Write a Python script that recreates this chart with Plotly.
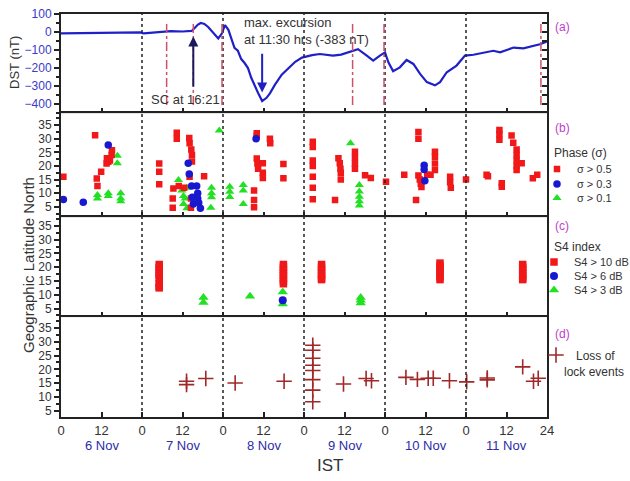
import plotly.graph_objects as go

# ---------------- data ----------------
dst_hours = [0, 6, 12, 18, 23.5, 24.5, 28, 31.3, 32.5, 36, 38.7, 39.6, 40.5, 41.4, 42.5, 43.6,
             45.1, 46.6, 47.6, 48.6, 49.6, 50.6, 51.4, 52.4, 53.4, 54.4, 55.4, 56.4, 57.4, 58.4,
             59.6, 60.9, 61.9, 63.4, 65.4, 67.4, 69.4, 71.4, 74.4, 76.7, 80.6, 83, 85.6, 88, 90.6,
             92.5, 94.5, 96, 97, 98.4, 100.4, 102.4, 104.4, 106.4, 108.4, 110.8, 112.3, 114.3,
             117.2, 119.7, 122.2, 126.1, 128.1, 130.1, 134.1, 137.0, 140, 141.9, 143.9]
dst_values = [-7, -6, -5, -4, -2, -8, -3, 0, 5, 3, 6, 22, 40, 50, 45, 28,
              -5, -36, -10, 38, 12, -44, -88, -104, -150, -172, -200, -255, -292, -338,
              -383, -365, -340, -292, -237, -200, -165, -142, -128, -122, -131, -125, -108, -95, -131,
              -159, -131, -113, -168, -217, -196, -155, -177, -232, -278, -296, -278, -223,
              -186, -131, -126, -113, -104, -113, -86, -91, -77, -68, -53]

event_hours = [31.3, 39.2, 47.7, 86.4, 95.7, 142.2]
day_bounds = [24, 48, 72, 96, 120]
day_labels = ["6 Nov", "7 Nov", "8 Nov", "9 Nov", "10 Nov", "11 Nov"]
day_centres = [12, 36, 60, 84, 108, 132]
x_tickvals = [0, 12, 24, 36, 48, 60, 72, 84, 96, 108, 120, 132, 144]
x_ticktext = ["0", "12", "0", "12", "0", "12", "0", "12", "0", "12", "0", "12", "24"]

# Phase sigma > 0.5
ph5_x = [0.7, 10.1, 10.6, 10.8, 11.9, 13.5, 13.6, 14.5, 15, 15.1, 14,
         29.1, 29.1, 29.1, 34.3, 34.3, 33.3, 33.1, 33.1, 34.9, 38, 38.1, 38.6, 38.8, 38.8, 38.1, 42.4, 38.5, 38.5, 36.5,
         57.2, 57.2, 57.2, 58, 58, 58, 58.2, 58.4, 59.8, 59.8, 59.8, 61.9, 62, 65.9, 65.9,
         74.6, 74.6, 74.6, 74.6, 74.6, 74.6, 74.6, 81.2, 82.2, 82.6, 82.8, 82.9, 82.9, 87.1, 87.1, 87.1, 87.1, 90.1, 91.8,
         96.3, 101.7, 105.2, 105.9, 105.9, 105.9, 106.3, 106.6, 106.8, 108.5, 109.5, 110.8, 110.8, 110.8, 110.8,
         115.3, 115.3, 115.5, 120,
         126.1, 126.5, 129.9, 129.9, 129.9, 130.6, 130.6, 133.5, 134, 135, 135, 135, 135, 135, 136.5, 139.8, 141.1]
ph5_y = [16, 31.3, 15.4, 12.6, 17.9, 20.9, 22.8, 22, 24, 25.8, 21.5,
         20.9, 17.9, 13.3, 32.2, 30, 11.7, 8, 4.6, 12.6, 30.3, 28.3, 26, 24, 21.6, 16, 16.2, 8, 4.6, 12,
         11, 7.5, 4.8, 32, 31, 22.7, 20.9, 19, 21, 17.5, 15.6, 30, 28.3, 20.7, 15.5,
         28.9, 27, 22, 20, 16, 12, 7.8, 7.5, 22.8, 21, 19, 17.5, 15, 25.2, 23, 20.8, 19, 16.6, 15.6,
         14.2, 16.8, 7.5, 32.5, 30, 16.5, 15, 13.5, 12.3, 16.8, 16.8, 25.2, 23.4, 20.9, 18.5,
         16, 14, 12, 15,
         16.8, 16.2, 33.2, 31.6, 29.6, 13.6, 12.4, 31.2, 28.5, 26, 24, 22, 20, 18.5, 21, 15.5, 16.8]
# Phase sigma > 0.3
ph3_x = [0.7, 6.6, 14, 37.7, 38, 38.7, 40.2, 40.5, 38.9, 40.5, 39.2, 41.3, 40.8, 57.8, 107.6, 107.6, 107.8]
ph3_y = [7.7, 6.7, 27.7, 21, 17, 12.6, 12.6, 10, 8.5, 8, 6, 4.5, 6.5, 30, 20.3, 18.7, 14.6]
# Phase sigma > 0.1
ph1_x = [10.8, 10.8, 14, 14, 16.7, 16.7, 17.7, 17.7, 17.7,
         34.8, 35.8, 36.3, 36.8, 36.3, 37.3, 37.3, 44.6, 44.6, 44.6, 44.4, 46.9,
         50, 50, 50, 54, 54, 54,
         85.8, 88.4, 88.4, 88.4, 88.4, 88.4]
ph1_y = [9.3, 8, 10, 9, 23.7, 21, 10, 8, 7,
         14.8, 11, 9, 8, 6, 4.5, 12, 12, 10, 8.5, 4.6, 33,
         12.4, 10.5, 8.6, 13, 11, 6,
         28.3, 13, 10.6, 8.7, 7, 5.5]

# S4 index
s4_10_x = [29.1] * 9 + [65.9] * 8 + [77.2] * 7 + [112.3] * 7 + [136.8] * 7
s4_10_y = [21, 20, 19, 18, 17, 16, 14, 13, 12.5,
           21, 20, 19, 18, 17, 16, 15, 14,
           21, 20, 19, 18, 17, 16, 15.5,
           21.5, 20.5, 19.5, 18.5, 17.5, 16.5, 15.5,
           21, 20, 19, 18, 17, 16, 15.5]
s4_6_x = [65.7]
s4_6_y = [8]
s4_3_x = [42.2, 42.2, 56, 65.7, 65.7, 88.8, 88.8, 88.8]
s4_3_y = [9, 7.2, 9.5, 11, 6.6, 9, 8, 7]

# Loss of lock events
lol_x = [37.2, 37.2, 42.9, 51.6, 66.1, 74.6, 74.6, 74.6, 74.6, 74.6, 74.6, 74.6, 74.6,
         83.7, 90.4, 92, 102.2, 105.6, 108.8, 110.3, 115.1, 120.2, 126.3, 126.3, 136.8, 140, 141.4]
lol_y = [15.7, 14.5, 16.7, 15.1, 15.7, 28.7, 26.9, 24, 21.5, 19.6, 16.3, 12.5, 8.3,
         14.7, 16.7, 15.9, 17.1, 16.4, 16.8, 16.8, 15.9, 15.5, 16.9, 16.2, 20.9, 15.7, 16.8]

# ---------------- styling ----------------
FONT = "Arial, Liberation Sans, sans-serif"
RED = "#f01818"
BLUE = "#1818d0"
GREEN = "#22e022"
CROSS = "#a02828"
AXC = "#222222"
TXT = "#333333"

fig = go.Figure()

# DST line
fig.add_trace(go.Scatter(x=dst_hours, y=dst_values, mode="lines", xaxis="x", yaxis="y",
                         line=dict(color="#2020c8", width=2.2), showlegend=False))

# Phase panel
fig.add_trace(go.Scatter(x=ph1_x, y=ph1_y, mode="markers", xaxis="x2", yaxis="y2",
                         marker=dict(symbol="triangle-up", size=8, color=GREEN),
                         name="σ > 0.1", legend="legend3"))
fig.add_trace(go.Scatter(x=ph5_x, y=ph5_y, mode="markers", xaxis="x2", yaxis="y2",
                         marker=dict(symbol="square", size=6.5, color=RED),
                         name="σ > 0.5", legend="legend"))
fig.add_trace(go.Scatter(x=ph3_x, y=ph3_y, mode="markers", xaxis="x2", yaxis="y2",
                         marker=dict(symbol="circle", size=7.5, color=BLUE),
                         name="σ > 0.3", legend="legend2"))

# S4 panel
fig.add_trace(go.Scatter(x=s4_10_x, y=s4_10_y, mode="markers", xaxis="x3", yaxis="y3",
                         marker=dict(symbol="square", size=7.5, color=RED),
                         name="S4 > 10 dB", legend="legend4"))
fig.add_trace(go.Scatter(x=s4_3_x, y=s4_3_y, mode="markers", xaxis="x3", yaxis="y3",
                         marker=dict(symbol="triangle-up", size=9, color=GREEN),
                         name="S4 > 3 dB", legend="legend6"))
fig.add_trace(go.Scatter(x=s4_6_x, y=s4_6_y, mode="markers", xaxis="x3", yaxis="y3",
                         marker=dict(symbol="circle", size=8, color=BLUE),
                         name="S4 > 6 dB", legend="legend5"))

# Loss of lock panel
fig.add_trace(go.Scatter(x=lol_x, y=lol_y, mode="markers", xaxis="x4", yaxis="y4",
                         marker=dict(symbol="cross-thin", size=11, color=CROSS,
                                     line=dict(color=CROSS, width=1.6)),
                         name="Loss of", legend="legend7"))

# empty traces for right-hand inside tick axes
for k in range(5, 9):
    fig.add_trace(go.Scatter(x=[], y=[], xaxis="x", yaxis=f"y{k}", showlegend=False,
                             hoverinfo="skip"))

domains = [[0.754, 1.0], [0.496, 0.754], [0.248, 0.496], [0.0, 0.248]]
lat_ranges = [[1.2, 39.4], [1.9, 38.2], [2.8, 38.9]]

layout = dict(
    width=630, height=481,
    margin=dict(l=61, r=83, t=14, b=64, autoexpand=False),
    paper_bgcolor="white", plot_bgcolor="white",
    font=dict(family=FONT, size=12, color=TXT),
)

for i in range(4):
    xname = "xaxis" if i == 0 else f"xaxis{i+1}"
    yid = "y" if i == 0 else f"y{i+1}"
    layout[xname] = dict(
        domain=[0, 1], anchor=yid, range=[0, 144],
        tickmode="array", tickvals=x_tickvals, ticktext=x_ticktext,
        showticklabels=(i == 3), ticks="inside", ticklen=5, tickwidth=1.5, tickcolor=AXC,
        showline=True, linecolor=AXC, linewidth=2, mirror=True,
        showgrid=False, zeroline=False,
        tickfont=dict(size=13, color=TXT),
    )
    if i > 0:
        layout[xname]["matches"] = "x"

layout["yaxis"] = dict(
    domain=domains[0], anchor="x", range=[-450, 100],
    tickmode="array", tickvals=[100, 0, -100, -200, -300, -400],
    ticks="outside", ticklen=5, tickwidth=1.5, tickcolor=AXC,
    minor=dict(dtick=50, ticks="outside", ticklen=3, tickcolor=AXC),
    showline=True, linecolor=AXC, linewidth=2, mirror=True,
    showgrid=False, zeroline=False,
    tickfont=dict(size=12, color="#3a3ac8"),
)
for i in range(1, 4):
    layout[f"yaxis{i+1}"] = dict(
        domain=domains[i], anchor=f"x{i+1}", range=lat_ranges[i - 1],
        tickmode="array", tickvals=[5, 10, 15, 20, 25, 30, 35],
        ticks="outside", ticklen=5, tickwidth=1.5, tickcolor=AXC,
        minor=dict(tickvals=[2.5, 7.5, 12.5, 17.5, 22.5, 27.5, 32.5, 37.5],
                   ticks="outside", ticklen=3, tickcolor=AXC),
        showline=True, linecolor=AXC, linewidth=2, mirror=True,
        showgrid=False, zeroline=False,
        tickfont=dict(size=12, color=TXT),
    )

# right side inside ticks
right_ranges = [[-450, 100]] + lat_ranges
right_ticks = [list(range(-450, 101, 50)), [2.5 * k for k in range(1, 16)],
               [2.5 * k for k in range(1, 16)], [2.5 * k for k in range(1, 16)]]
for i in range(4):
    ov = "y" if i == 0 else f"y{i+1}"
    layout[f"yaxis{i+5}"] = dict(
        overlaying=ov, side="right", anchor="x", range=right_ranges[i],
        tickmode="array", tickvals=right_ticks[i], showticklabels=False,
        ticks="inside", ticklen=5, tickwidth=1.5, tickcolor=AXC,
        showline=False, showgrid=False, zeroline=False,
    )

# one legend per entry, so the rows can sit as tightly as in the original
legend_rows = {"legend": (537, 169), "legend2": (537, 184), "legend3": (537, 198),
               "legend4": (534, 262), "legend5": (534, 276), "legend6": (534, 290),
               "legend7": (536, 355)}
for lname, (px, py) in legend_rows.items():
    layout[lname] = dict(x=(px - 61) / 486, y=(417 - py) / 403, xanchor="left", yanchor="middle",
                         bgcolor="rgba(0,0,0,0)",
                         font=dict(size=12 if lname == "legend7" else 11, color=TXT),
                         itemsizing="trace", itemwidth=30)

shapes = []
for b in day_bounds:
    shapes.append(dict(type="line", xref="x", yref="paper", x0=b, x1=b, y0=0, y1=1,
                       line=dict(color="#222222", width=1.5, dash="dot")))
for h in event_hours:
    shapes.append(dict(type="line", xref="x", yref="y", x0=h, x1=h, y0=-405, y1=50,
                       line=dict(color="#d0506a", width=1.5, dash="dashdot")))
layout["shapes"] = shapes

ann = []
# arrows
ann.append(dict(x=39.2, y=-25, ax=39.2, ay=-310, xref="x", yref="y", axref="x", ayref="y",
                showarrow=True, arrowhead=2, arrowsize=1, arrowwidth=2, arrowcolor="#1a1a5a", text=""))
ann.append(dict(x=59.6, y=-335, ax=59.6, ay=-112, xref="x", yref="y", axref="x", ayref="y",
                showarrow=True, arrowhead=2, arrowsize=1, arrowwidth=2, arrowcolor="#2020c0", text=""))
ann.append(dict(x=26.2, y=-375, xref="x", yref="y", text="SC at 16:21", showarrow=False,
                xanchor="left", yanchor="middle", font=dict(size=13, color=TXT)))
ann.append(dict(x=53.5, y=55, xref="x", yref="y", text="max. excursion", showarrow=False,
                xanchor="left", yanchor="middle", font=dict(size=13, color=TXT)))
ann.append(dict(x=53.5, y=-40, xref="x", yref="y", text="at 11:30 hrs (-383 nT)", showarrow=False,
                xanchor="left", yanchor="middle", font=dict(size=13, color=TXT)))
# legend titles and second line of the loss-of-lock label
for txt, px, py, anc in [("Phase (σ)", 552, 153, "left"), ("S4 index", 552, 247, "left"),
                         ("lock events", 594, 372, "center")]:
    ann.append(dict(x=(px - 61) / 486, y=(417 - py) / 403, xref="paper", yref="paper", text=txt,
                    showarrow=False, xanchor=anc, yanchor="middle",
                    font=dict(size=12, color=TXT)))
# panel labels
for lab, py in zip(["(a)", "(b)", "(c)", "(d)"], [27, 128, 226, 334]):
    ann.append(dict(x=1.012, y=(417 - py) / 403, xref="paper", yref="paper", text=lab,
                    showarrow=False, xanchor="left", yanchor="middle",
                    font=dict(size=12, color="#c040c8")))
# day labels
for c, lab in zip(day_centres, day_labels):
    ann.append(dict(x=c, y=(417 - 445) / 403, xref="x4", yref="paper", text=lab,
                    showarrow=False, xanchor="center", yanchor="middle",
                    font=dict(size=13, color="#2c2ca8")))
ann.append(dict(x=(330 - 61) / 486, y=(417 - 466) / 403, xref="paper", yref="paper", text="IST",
                showarrow=False, xanchor="center", yanchor="middle", font=dict(size=17, color=TXT)))
ann.append(dict(x=(14 - 61) / 486, y=(417 - 63) / 403, xref="paper", yref="paper", text="DST (nT)",
                showarrow=False, textangle=-90, xanchor="center", yanchor="middle",
                font=dict(size=13, color=TXT)))
ann.append(dict(x=(28 - 61) / 486, y=(417 - 265) / 403, xref="paper", yref="paper",
                text="Geographic Latitude North", showarrow=False, textangle=-90,
                xanchor="center", yanchor="middle", font=dict(size=15, color=TXT)))
layout["annotations"] = ann

fig.update_layout(**layout)
fig.write_html("out.html", config={"displayModeBar": False},
               post_script="document.body.style.margin='0px';")
